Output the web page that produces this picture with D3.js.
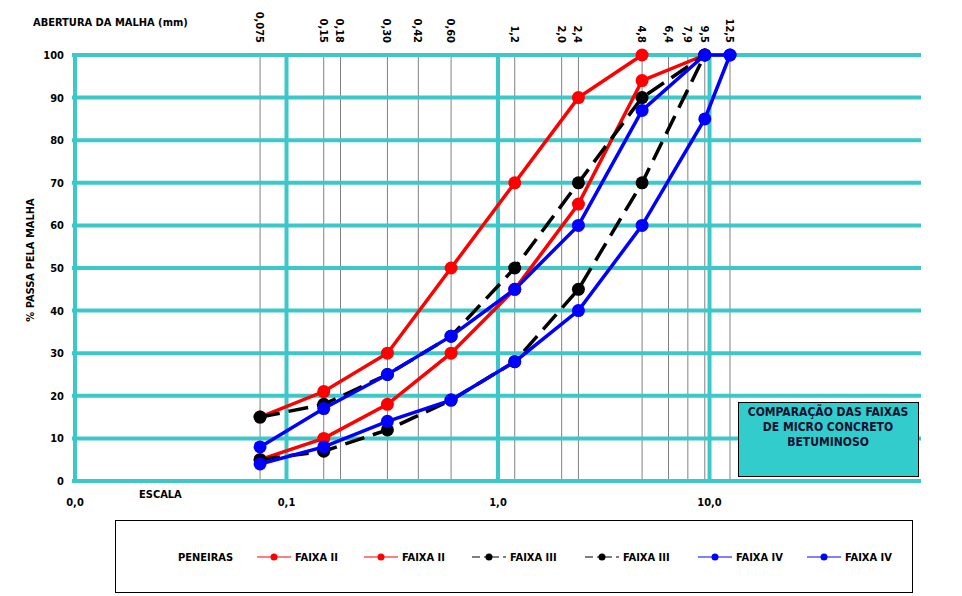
<!DOCTYPE html>
<html><head><meta charset="utf-8">
<script src="https://cdn.jsdelivr.net/npm/d3@7"></script>
<style>
body{margin:0;background:#fff;}
svg text{font-family:"DejaVu Sans Condensed","DejaVu Sans",sans-serif;font-weight:bold;fill:#000;}
</style></head><body>
<svg id="c" width="962" height="596"></svg>
<script>
// Data
const sieves = [0.075,0.15,0.18,0.30,0.42,0.60,1.2,2.0,2.4,4.8,6.4,7.9,9.5,12.5];
const sieveLabels = ["0,075","0,15","0,18","0,30","0,42","0,60","1,2","2,0","2,4","4,8","6,4","7,9","9,5","12,5"];
const majorX = [0.01,0.1,1,10];
const majorXLabels = ["0,0","0,1","1,0","10,0"];
const yTicks = [0,10,20,30,40,50,60,70,80,90,100];

const faixa2Sup = [[0.075,15],[0.15,21],[0.30,30],[0.60,50],[1.2,70],[2.4,90],[4.8,100]];
const faixa2Inf = [[0.075,5],[0.15,10],[0.30,18],[0.60,30],[1.2,45],[2.4,65],[4.8,94],[9.5,100]];
const faixa3Sup = [[0.075,15],[0.15,18],[0.30,25],[0.60,34],[1.2,50],[2.4,70],[4.8,90],[9.5,100]];
const faixa3Inf = [[0.075,5],[0.15,7],[0.30,12],[0.60,19],[1.2,28],[2.4,45],[4.8,70],[9.5,100]];
const faixa4Sup = [[0.075,8],[0.15,17],[0.30,25],[0.60,34],[1.2,45],[2.4,60],[4.8,87],[9.5,100],[12.5,100]];
const faixa4Inf = [[0.075,4],[0.15,8],[0.30,14],[0.60,19],[1.2,28],[2.4,40],[4.8,60],[9.5,85],[12.5,100]];

const series = [
  {name:"FAIXA II", data:faixa2Sup, color:"#ff0000", dash:null},
  {name:"FAIXA II", data:faixa2Inf, color:"#ff0000", dash:null},
  {name:"FAIXA III", data:faixa3Sup, color:"#000000", dash:"20,9"},
  {name:"FAIXA III", data:faixa3Inf, color:"#000000", dash:"20,9"},
  {name:"FAIXA IV", data:faixa4Sup, color:"#0000ff", dash:null},
  {name:"FAIXA IV", data:faixa4Inf, color:"#0000ff", dash:null}
];

const svg = d3.select("#c");
const cyan = "#3cc8c8";
const x = d3.scaleLog().domain([0.01,100]).range([75,921]);
const y = d3.scaleLinear().domain([0,100]).range([481,55]);

// thin sieve lines
svg.append("g").selectAll("line").data(sieves).join("line")
  .attr("x1",d=>x(d)).attr("x2",d=>x(d)).attr("y1",y(100)).attr("y2",y(0))
  .attr("stroke","#808080").attr("stroke-width",1);

// horizontal cyan grid
svg.append("g").selectAll("line").data(yTicks).join("line")
  .attr("x1",72).attr("x2",x(100)).attr("y1",d=>y(d)).attr("y2",d=>y(d))
  .attr("stroke",cyan).attr("stroke-width",4);

// vertical cyan majors
svg.append("g").selectAll("line").data(majorX).join("line")
  .attr("x1",d=>x(d)).attr("x2",d=>x(d)).attr("y1",y(100)-1).attr("y2",y(0)+2)
  .attr("stroke",cyan).attr("stroke-width",4);

// y tick labels
svg.append("g").selectAll("text").data(yTicks).join("text")
  .attr("x",64).attr("y",d=>y(d)+4).attr("text-anchor","end")
  .attr("font-size","11px").text(d=>d);

// x major labels
svg.append("g").selectAll("text").data(majorX).join("text")
  .attr("x",d=>x(d)).attr("y",506).attr("text-anchor","middle")
  .attr("font-size","11px").text((d,i)=>majorXLabels[i]);

svg.append("text").attr("x",139).attr("y",498).attr("font-size","11px").text("ESCALA");

// sieve labels (rotated)
svg.append("g").selectAll("text").data(sieves).join("text")
  .attr("transform",d=>`translate(${x(d)-4},43) rotate(90)`)
  .attr("text-anchor","end").attr("font-size","11px")
  .text((d,i)=>sieveLabels[i]);

svg.append("text").attr("x",33).attr("y",26).attr("font-size","11px").text("ABERTURA DA MALHA (mm)");
svg.append("text").attr("transform","translate(34,260) rotate(-90)")
  .attr("text-anchor","middle").attr("font-size","11px").text("% PASSA PELA MALHA");

// series
const line = d3.line().x(d=>x(d[0])).y(d=>y(d[1]));
series.forEach(s=>{
  const g = svg.append("g");
  g.append("path").datum(s.data).attr("d",line).attr("fill","none")
    .attr("stroke",s.color).attr("stroke-width",3.5)
    .attr("stroke-dasharray",s.dash);
  g.selectAll("circle").data(s.data).join("circle")
    .attr("cx",d=>x(d[0])).attr("cy",d=>y(d[1])).attr("r",6.5).attr("fill",s.color);
});

// info box
svg.append("rect").attr("x",738.5).attr("y",402.5).attr("width",180).attr("height",74)
  .attr("fill","#33cccc").attr("stroke","#000").attr("stroke-width",1);
["COMPARAÇÃO DAS FAIXAS","DE MICRO CONCRETO","BETUMINOSO"].forEach((t,i)=>{
  svg.append("text").attr("x",828).attr("y",416+i*15).attr("text-anchor","middle")
    .attr("font-size","12px").style("fill","#101030").text(t);
});

// legend
svg.append("rect").attr("x",115.5).attr("y",520.5).attr("width",797).attr("height",72)
  .attr("fill","#fff").attr("stroke","#000").attr("stroke-width",1);
svg.append("text").attr("x",178).attr("y",561).attr("font-size","11px").text("PENEIRAS");
const legX = [257,364,472,585,698,807];
series.forEach((s,i)=>{
  const lx = legX[i], ly = 557;
  svg.append("line").attr("x1",lx).attr("x2",lx+34).attr("y1",ly).attr("y2",ly)
    .attr("stroke",s.color).attr("stroke-width",1.2)
    .attr("stroke-dasharray",s.dash?"8,4,3,4":null);
  svg.append("circle").attr("cx",lx+17).attr("cy",ly).attr("r",3.5).attr("fill",s.color);
  svg.append("text").attr("x",lx+38).attr("y",ly+4).attr("font-size","11px").text(s.name);
});
</script>
</body></html>
